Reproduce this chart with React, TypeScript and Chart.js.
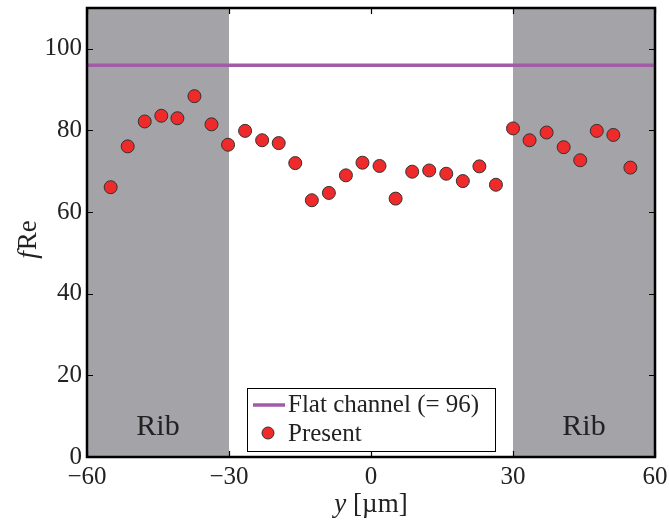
import React, { useEffect, useRef } from "react";
import { Chart, registerables } from "chart.js";

Chart.register(...registerables);

// ---- data ----
const positions = [
  -55.0, -51.4, -47.8, -44.3, -40.9, -37.3, -33.7, -30.2,
  -26.6, -23.0, -19.5, -16.0, -12.5, -8.9, -5.3, -1.8, 1.8,
  5.2, 8.7, 12.3, 15.9, 19.4, 22.9, 26.4,
  30.0, 33.5, 37.1, 40.7, 44.2, 47.7, 51.2, 54.8,
];
const presentValues = [
  66.1, 76.1, 82.2, 83.6, 83.0, 88.4, 81.5, 76.5,
  79.9, 77.6, 76.9, 72.0, 62.9, 64.7, 69.0, 72.1, 71.3,
  63.3, 69.9, 70.2, 69.4, 67.6, 71.2, 66.7,
  80.5, 77.6, 79.5, 75.9, 72.7, 79.9, 78.9, 70.9,
];
const flatChannelX = [-60, 60];
const flatChannelValue = 96;
const xTickValues = [-60, -30, 0, 30, 60];
const yTickValues = [0, 20, 40, 60, 80, 100];
const ribRanges = [
  [-60, -30],
  [30, 60],
];
const ribLabel = "Rib";
const legendLabels = ["Flat channel (= 96)", "Present"];

const SERIF = "'Liberation Serif', 'Times New Roman', serif";
const GRAY = "#A4A4A8";
const PURPLE = "#A25BA6";
const RED = "#EE2A2A";

const decorPlugin = {
  id: "decor",
  beforeDatasetsDraw(chart: any) {
    const { ctx, chartArea: a, scales } = chart;
    const x = scales.x;
    ctx.save();
    ctx.fillStyle = GRAY;
    for (const [lo, hi] of ribRanges) {
      const x0 = x.getPixelForValue(lo);
      const x1 = x.getPixelForValue(hi);
      ctx.fillRect(x0, a.top, x1 - x0, a.bottom - a.top);
    }
    ctx.restore();
  },
  afterDatasetsDraw(chart: any) {
    const { ctx, chartArea: a, scales } = chart;
    const x = scales.x;
    const y = scales.y;
    ctx.save();
    // Rib labels
    ctx.fillStyle = "#222";
    ctx.font = `30px ${SERIF}`;
    ctx.textAlign = "center";
    ctx.textBaseline = "alphabetic";
    for (const [lo, hi] of ribRanges) {
      ctx.fillText(ribLabel, x.getPixelForValue((lo + hi) / 2), y.getPixelForValue(5.5));
    }
    // inward ticks
    ctx.strokeStyle = "#000";
    ctx.lineWidth = 1.2;
    const tl = 6;
    ctx.beginPath();
    for (const v of xTickValues) {
      const px = Math.round(x.getPixelForValue(v)) + 0.5;
      ctx.moveTo(px, a.bottom);
      ctx.lineTo(px, a.bottom - tl);
      ctx.moveTo(px, a.top);
      ctx.lineTo(px, a.top + tl);
    }
    for (const v of yTickValues) {
      const py = Math.round(y.getPixelForValue(v)) + 0.5;
      ctx.moveTo(a.left, py);
      ctx.lineTo(a.left + tl, py);
      ctx.moveTo(a.right, py);
      ctx.lineTo(a.right - tl, py);
    }
    ctx.stroke();
    // frame
    ctx.lineWidth = 2.5;
    ctx.strokeRect(a.left, a.top, a.right - a.left, a.bottom - a.top);

    // legend
    const bx = 247, by = 388, bw = 248, bh = 63;
    ctx.fillStyle = "#fff";
    ctx.fillRect(bx, by, bw, bh);
    ctx.lineWidth = 1;
    ctx.strokeStyle = "#000";
    ctx.strokeRect(bx + 0.5, by + 0.5, bw, bh);
    ctx.strokeStyle = PURPLE;
    ctx.lineWidth = 3.5;
    ctx.beginPath();
    ctx.moveTo(253, 405);
    ctx.lineTo(285, 405);
    ctx.stroke();
    ctx.fillStyle = RED;
    ctx.strokeStyle = "#333";
    ctx.lineWidth = 1;
    ctx.beginPath();
    ctx.arc(268, 433, 6, 0, Math.PI * 2);
    ctx.fill();
    ctx.stroke();
    ctx.fillStyle = "#222";
    ctx.font = `25px ${SERIF}`;
    ctx.textAlign = "left";
    ctx.textBaseline = "middle";
    ctx.fillText(legendLabels[0], 288, 405);
    ctx.fillText(legendLabels[1], 288, 434);
    ctx.restore();
  },
  afterDraw(chart: any) {
    const { ctx } = chart;
    ctx.save();
    ctx.fillStyle = "#222";
    ctx.textBaseline = "alphabetic";
    // x title: italic y + [µm]
    const italic = `italic 27px ${SERIF}`;
    const normal = `27px ${SERIF}`;
    ctx.font = italic;
    const w1 = ctx.measureText("y").width;
    ctx.font = normal;
    const rest = " [\u00B5m]";
    const w2 = ctx.measureText(rest).width;
    const cx = 371;
    let sx = cx - (w1 + w2) / 2;
    ctx.font = italic;
    ctx.textAlign = "left";
    ctx.fillText("y", sx, 512);
    ctx.font = normal;
    ctx.fillText(rest, sx + w1, 512);
    // y title: italic f + Re, rotated
    ctx.translate(36, 240);
    ctx.rotate(-Math.PI / 2);
    ctx.font = italic;
    const f1 = ctx.measureText("f").width;
    ctx.font = normal;
    const f2 = ctx.measureText("Re").width;
    sx = -(f1 + f2) / 2;
    ctx.font = italic;
    ctx.fillText("f", sx, 0);
    ctx.font = normal;
    ctx.fillText("Re", sx + f1 + 1, 0);
    ctx.restore();
  },
};

export default function App() {
  const ref = useRef<HTMLCanvasElement | null>(null);
  useEffect(() => {
    document.body.style.margin = "0";
    if (!ref.current) return;
    const chart = new Chart(ref.current, {
      type: "scatter",
      data: {
        datasets: [
          {
            label: legendLabels[1],
            data: positions.map((p, i) => ({ x: p, y: presentValues[i] })),
            backgroundColor: RED,
            borderColor: "#333",
            borderWidth: 1,
            pointRadius: 6.5,
            pointHoverRadius: 6.5,
          },
          {
            label: legendLabels[0],
            data: flatChannelX.map((p) => ({ x: p, y: flatChannelValue })),
            showLine: true,
            borderColor: PURPLE,
            borderWidth: 3.5,
            pointRadius: 0,
          } as any,
        ],
      },
      options: {
        responsive: false,
        animation: false,
        layout: { padding: { left: 0, top: 8, right: 14, bottom: 0 } },
        plugins: {
          legend: { display: false },
          tooltip: { enabled: false },
        },
        scales: {
          x: {
            type: "linear",
            min: -60,
            max: 60,
            afterBuildTicks: (s: any) => {
              s.ticks = xTickValues.map((v) => ({ value: v }));
            },
            afterFit: (s: any) => {
              s.height = 65;
              s.paddingLeft = 0;
              s.paddingRight = 0;
            },
            grid: { display: false, drawTicks: false },
            border: { display: false },
            ticks: {
              color: "#222",
              font: { family: SERIF, size: 25 },
              padding: 5,
              maxRotation: 0,
              autoSkip: false,
              callback: (v: any) => (Number(v) < 0 ? "\u2212" + Math.abs(Number(v)) : String(v)),
            },
          },
          y: {
            type: "linear",
            min: 0,
            max: 110,
            afterBuildTicks: (s: any) => {
              s.ticks = yTickValues.map((v) => ({ value: v }));
            },
            afterFit: (s: any) => {
              s.width = 87;
              s.paddingTop = 0;
              s.paddingBottom = 0;
            },
            grid: { display: false, drawTicks: false },
            border: { display: false },
            ticks: {
              color: "#222",
              font: { family: SERIF, size: 25 },
              padding: 5,
              autoSkip: false,
            },
          },
        },
      } as any,
      plugins: [decorPlugin],
    });
    return () => chart.destroy();
  }, []);
  return <canvas ref={ref} width={669} height={522} style={{ display: "block" }} />;
}
